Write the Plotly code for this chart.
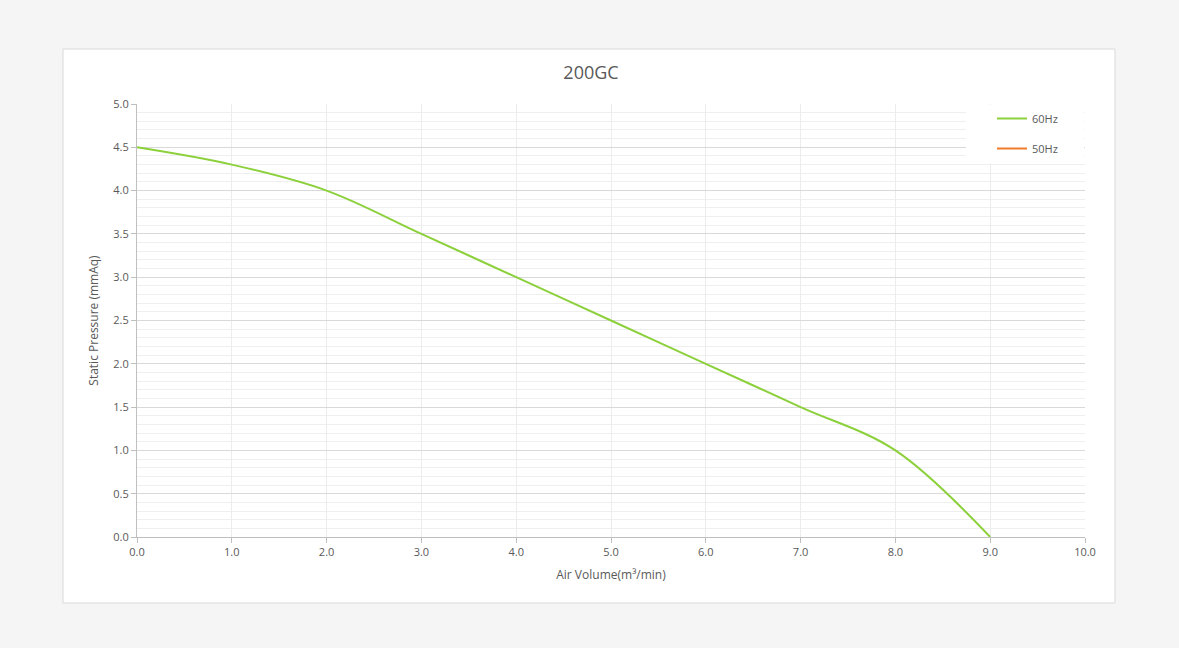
import plotly.graph_objects as go

air_volume_60 = [0.0, 1.0, 2.0, 3.0, 4.0, 5.0, 6.0, 7.0, 8.0, 9.0]
pressure_60 = [4.5, 4.3, 4.0, 3.5, 3.0, 2.5, 2.0, 1.5, 1.0, 0.0]
air_volume_50 = []
pressure_50 = []

W, H = 1179, 648
L, R, T, B = 137, 1085, 104, 537
pw, ph = R - L, B - T

def px_x(p):
    return (p - L) / pw

def px_y(p):
    return (B - p) / ph

fig = go.Figure()
fig.add_trace(go.Scatter(
    x=air_volume_60, y=pressure_60, mode="lines", name="60Hz",
    line=dict(color="#8cd03c", width=2, shape="spline", smoothing=1.0),
    legendgroup="a",
))
fig.add_trace(go.Scatter(
    x=air_volume_50 if air_volume_50 else [None], y=pressure_50 if pressure_50 else [None],
    mode="lines", name="50Hz",
    line=dict(color="#f07b2a", width=2),
    legendgroup="b",
))

font_fam = "Open Sans, Noto Sans, sans-serif"
fig.update_layout(
    width=W, height=H,
    margin=dict(l=L, r=W - R, t=T, b=H - B),
    paper_bgcolor="#f5f5f5",
    plot_bgcolor="white",
    font=dict(family=font_fam, size=11, color="#595959"),
    title=dict(text="200GC", x=591 / W, xanchor="center", y=1 - 73 / H, yanchor="middle",
               font=dict(size=18, color="#595959")),
    showlegend=True,
    legend=dict(x=px_x(992), y=px_y(104), xanchor="left", yanchor="top",
                bgcolor="rgba(0,0,0,0)", font=dict(size=11, color="#595959"),
                tracegroupgap=11, traceorder="grouped"),
    xaxis=dict(
        range=[0, 10], dtick=1, tickformat=".1f", showgrid=True, gridcolor="#ececec",
        showline=True, linecolor="#bfbfbf", ticks="outside", ticklen=5, tickcolor="#bfbfbf",
        zeroline=False, fixedrange=True,
        title=dict(text="Air Volume(m³/min)", font=dict(size=12, color="#595959"), standoff=12),
    ),
    yaxis=dict(
        range=[0, 5], dtick=0.5, tickformat=".1f", showgrid=True, gridcolor="#d9d9d9",
        showline=True, linecolor="#bfbfbf", ticks="outside", ticklen=5, tickcolor="#bfbfbf",
        zeroline=False, fixedrange=True,
        minor=dict(dtick=0.1, showgrid=True, gridcolor="#efefef"),
        title=dict(text="Static Pressure (mmAq)", font=dict(size=12, color="#595959"), standoff=12),
    ),
    shapes=[
        dict(type="rect", xref="paper", yref="paper",
             x0=px_x(63), x1=px_x(1115), y0=px_y(603), y1=px_y(49),
             fillcolor="white", line=dict(color="#d9d9d9", width=1), layer="below"),
        dict(type="rect", xref="paper", yref="paper",
             x0=px_x(966), x1=px_x(1084), y0=px_y(163), y1=px_y(105),
             fillcolor="white", line=dict(width=0), layer="above"),
    ],
)

fig.write_html(
    "out.html",
    config={"displayModeBar": False},
    post_script="document.body.style.margin='0';document.body.style.padding='0';"
                "document.body.style.background='#f5f5f5';"
                "document.documentElement.style.background='#f5f5f5';",
)
